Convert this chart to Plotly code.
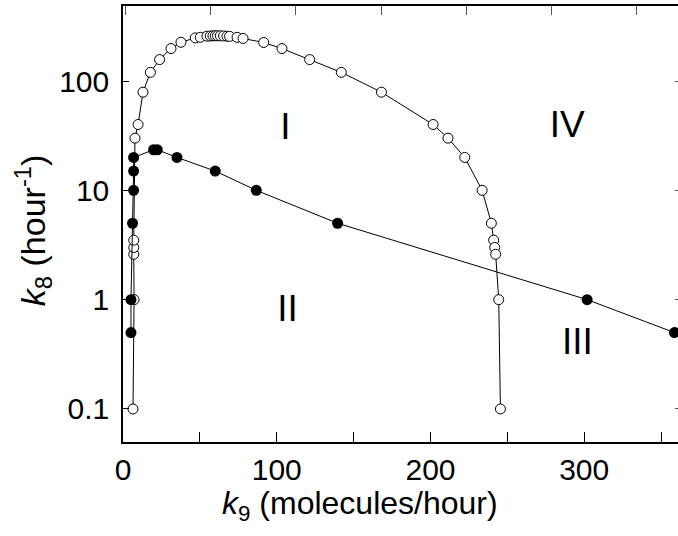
import plotly.graph_objects as go

# Open-circle boundary (k9, k8)
open_x = [6.5, 7.2, 7.0, 7.0, 7.0, 7.8, 9.8, 13.0, 17.8, 23.8, 31.2, 37.7, 47.0, 50.3, 54.6,
          56.8, 58.5, 60.0, 61.5, 63.3, 65.4, 67.6, 69.3, 74.2, 78.1, 91.5, 103.4, 121.4,
          142.0, 168.1, 201.7, 211.4, 222.3, 233.6, 239.6, 241.1, 241.8, 242.4, 244.4, 245.5]
open_y = [0.1, 1.0, 2.6, 3.0, 3.5, 30, 40, 79, 120, 157, 198, 226, 248, 251, 257,
          258, 259, 259, 259, 259, 258, 257, 256, 251, 245, 225, 198, 157,
          120, 79, 40, 30, 20, 10, 5, 3.5, 3.0, 2.6, 1.0, 0.1]

# Filled-circle boundary
filled_x = [5.2, 5.2, 6.2, 6.9, 6.9, 6.9, 19.9, 22.3, 35.1, 60.0, 86.7, 139.6, 301.9, 358.7]
filled_y = [0.5, 1.0, 5.0, 10, 15, 20, 23.5, 23.5, 20, 15, 10, 5, 1.0, 0.5]

# Region labels
region_text = ["I", "II", "III", "IV"]
region_x = [105.6, 107.0, 295.6, 289.0]
region_y = [35.9, 0.776, 0.388, 37.4]

x_tickvals = [0, 100, 200, 300]
x_ticktext = ["0", "100", "200", "300"]
top_tickvals = [1.5, 56.8, 112.1, 167.9, 223.2, 278.5, 333.8]
y_tickvals = [0.1, 1, 10, 100]
y_ticktext = ["0.1", "1", "10", "100"]

FONT = "Liberation Sans, Arial, sans-serif"

fig = go.Figure()
fig.add_trace(go.Scatter(
    x=open_x, y=open_y, mode="lines+markers",
    line=dict(color="black", width=1),
    marker=dict(symbol="circle", size=10, color="white", line=dict(color="black", width=1)),
    showlegend=False, cliponaxis=False))
fig.add_trace(go.Scatter(
    x=filled_x, y=filled_y, mode="lines+markers",
    line=dict(color="black", width=1),
    marker=dict(symbol="circle", size=11, color="black", line=dict(color="black", width=0)),
    showlegend=False, cliponaxis=False))
fig.add_trace(go.Scatter(
    x=region_x, y=region_y, mode="text", text=region_text,
    textfont=dict(family=FONT, size=37, color="black"),
    showlegend=False))
# invisible trace to activate overlay axes
fig.add_trace(go.Scatter(x=[None], y=[None], xaxis="x2", yaxis="y2", showlegend=False))

xrange = [0, 361]
yrange = [-1.302, 2.686]

fig.update_layout(
    width=678, height=536,
    margin=dict(l=123, r=0, t=6, b=94),
    paper_bgcolor="white", plot_bgcolor="white",
    font=dict(family=FONT, color="black"),
    xaxis=dict(range=xrange, showgrid=False, zeroline=False,
               showline=True, linecolor="black", linewidth=1.5, mirror=True,
               ticks="inside", ticklen=10, tickwidth=1, tickcolor="black",
               tickvals=x_tickvals, ticktext=x_ticktext,
               minor=dict(dtick=50, tick0=0, ticks="inside", ticklen=10, tickwidth=1,
                          tickcolor="black", showgrid=False),
               tickfont=dict(size=30, family=FONT), ticklabelstandoff=0),
    yaxis=dict(type="log", range=yrange, showgrid=False, zeroline=False,
               showline=True, linecolor="black", linewidth=1.5, mirror=False,
               ticks="inside", ticklen=6, tickwidth=1, tickcolor="black",
               tickvals=y_tickvals, ticktext=y_ticktext,
               tickfont=dict(size=30, family=FONT), ticklabelstandoff=6),
    xaxis2=dict(overlaying="x", side="top", range=xrange, showgrid=False, zeroline=False,
                showline=False, ticks="inside", ticklen=9, tickwidth=1, tickcolor="#555",
                tickvals=top_tickvals, showticklabels=False),
    yaxis2=dict(overlaying="y", side="right", type="log", range=yrange, showgrid=False,
                zeroline=False, showline=False, ticks="inside", ticklen=3, tickwidth=1,
                tickcolor="#555", tickvals=y_tickvals, showticklabels=False),
    annotations=[
        dict(text="<i>k</i><sub>9</sub> (molecules/hour)", xref="paper", yref="paper",
             x=0.427, y=-0.145, xanchor="center", yanchor="middle", showarrow=False,
             font=dict(size=32, family=FONT, color="black")),
        dict(text="<i>k</i><sub>8</sub> (hour<sup>-1</sup>)", xref="paper", yref="paper",
             x=-0.162, y=0.486, xanchor="center", yanchor="middle", showarrow=False,
             textangle=-90, font=dict(size=34, family=FONT, color="black")),
    ],
)

fig.write_html("out.html")
